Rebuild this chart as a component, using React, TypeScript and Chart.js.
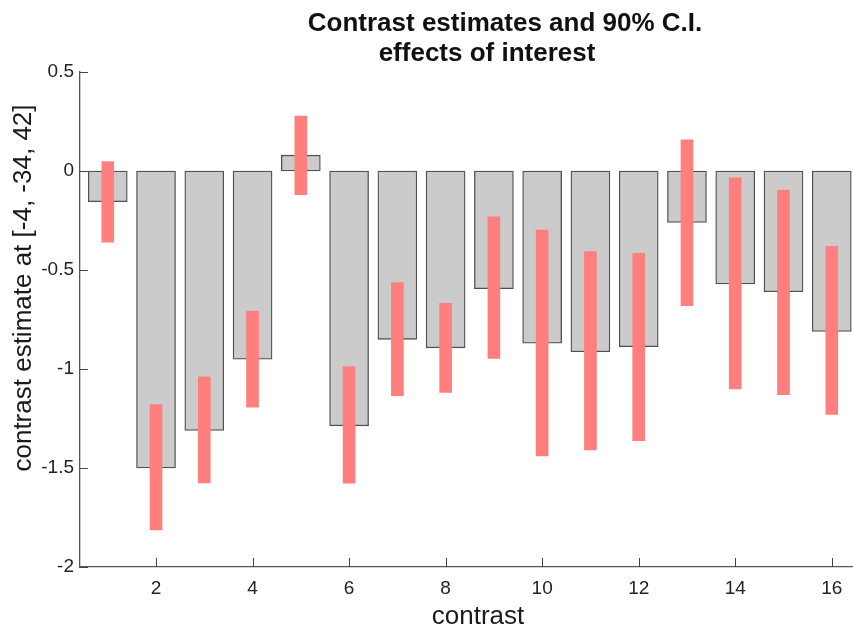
import React, { useEffect, useRef } from "react";
import { Chart, registerables } from "chart.js";

Chart.register(...registerables);

const categories = [1, 2, 3, 4, 5, 6, 7, 8, 9, 10, 11, 12, 13, 14, 15, 16];
const estimates = [-0.155, -1.5, -1.31, -0.95, 0.08, -1.287, -0.85, -0.893, -0.594, -0.87, -0.913, -0.887, -0.26, -0.57, -0.61, -0.81];
const ciLow = [-0.36, -1.813, -1.575, -1.193, -0.12, -1.577, -1.135, -1.118, -0.946, -1.439, -1.409, -1.362, -0.68, -1.1, -1.13, -1.23];
const ciHigh = [0.047, -1.18, -1.04, -0.707, 0.278, -0.988, -0.564, -0.668, -0.231, -0.298, -0.407, -0.416, 0.157, -0.035, -0.096, -0.38];
const xTickValues = [2, 4, 6, 8, 10, 12, 14, 16];
const yTickValues = [0.5, 0, -0.5, -1, -1.5, -2];
const yTickLabels = ["0.5", "0", "-0.5", "-1", "-1.5", "-2"];
const titleLines = ["Contrast estimates and 90% C.I.", "effects of interest"];
const xLabel = "contrast";
const yLabel = "contrast estimate at [-4, -34, 42]";

const FONT = "'Liberation Sans', Arial, sans-serif";

const decorPlugin = {
  id: "decor",
  afterDraw(chart: any) {
    const ctx = chart.ctx as CanvasRenderingContext2D;
    const xs = chart.scales.x;
    const ys = chart.scales.y;
    const area = chart.chartArea;
    ctx.save();
    ctx.strokeStyle = "#444";
    ctx.lineWidth = 1;
    ctx.beginPath();
    for (const v of xTickValues) {
      const px = Math.round(xs.getPixelForValue(v)) + 0.5;
      ctx.moveTo(px, area.bottom);
      ctx.lineTo(px, area.bottom - 9);
    }
    for (const v of yTickValues) {
      const py = Math.round(ys.getPixelForValue(v)) + 0.5;
      ctx.moveTo(area.left, py);
      ctx.lineTo(area.left + 8, py);
    }
    ctx.stroke();
    ctx.fillStyle = "#111";
    ctx.textAlign = "center";
    ctx.textBaseline = "alphabetic";
    ctx.font = `bold 26px ${FONT}`;
    ctx.fillText(titleLines[0], 505, 31);
    ctx.fillText(titleLines[1], 487, 61);
    ctx.fillStyle = "#1a1a1a";
    ctx.font = `26px ${FONT}`;
    ctx.fillText(xLabel, 478, 624);
    ctx.translate(31, 288);
    ctx.rotate(-Math.PI / 2);
    ctx.fillText(yLabel, 0, 0);
    ctx.restore();
  },
};

export default function App() {
  const ref = useRef<HTMLCanvasElement | null>(null);
  useEffect(() => {
    if (!ref.current) return;
    const chart = new Chart(ref.current, {
      type: "bar",
      data: {
        datasets: [
          {
            label: "90% C.I.",
            data: categories.map((c, i) => ({ x: c, y: [ciLow[i], ciHigh[i]] })) as any,
            backgroundColor: "#ff7f7f",
            borderWidth: 0,
            barThickness: 12,
            grouped: false,
            order: 0,
          },
          {
            label: "contrast estimate",
            data: categories.map((c, i) => ({ x: c, y: estimates[i] })) as any,
            backgroundColor: "#cbcbcb",
            borderColor: "#505050",
            borderWidth: 1.3,
            borderSkipped: false,
            barThickness: 39,
            grouped: false,
            order: 1,
          },
        ],
      },
      options: {
        animation: false,
        responsive: false,
        layout: { padding: { left: 0, top: 72, right: 0, bottom: 0 } },
        plugins: { legend: { display: false }, tooltip: { enabled: false }, title: { display: false } },
        scales: {
          x: {
            type: "linear",
            min: 0.425,
            max: 16.44,
            offset: false,
            grid: { display: false, drawTicks: false, offset: false },
            border: { display: true, color: "#555", width: 1.3 },
            afterBuildTicks: (s: any) => {
              s.ticks = xTickValues.map((v) => ({ value: v }));
            },
            afterFit: (s: any) => {
              s.height = 60;
            },
            ticks: {
              autoSkip: false,
              maxRotation: 0,
              padding: 10,
              color: "#222",
              font: { family: FONT, size: 19 },
              callback: (v: any) => String(v),
            },
          },
          y: {
            type: "linear",
            min: -2,
            max: 0.5,
            grid: { display: false, drawTicks: false },
            border: { display: true, color: "#555", width: 1.3 },
            afterBuildTicks: (s: any) => {
              s.ticks = yTickValues.map((v) => ({ value: v }));
            },
            afterFit: (s: any) => {
              s.width = 80;
            },
            ticks: {
              padding: 6,
              color: "#222",
              font: { family: FONT, size: 19 },
              callback: (v: any) => {
                const i = yTickValues.indexOf(Number(v));
                return i >= 0 ? yTickLabels[i] : "";
              },
            },
          },
        },
      },
      plugins: [decorPlugin],
    });
    return () => chart.destroy();
  }, []);
  return (
    <div style={{ position: "fixed", left: 0, top: 0, width: 853, height: 627, background: "#fff" }}>
      <canvas ref={ref} width={853} height={627} style={{ display: "block" }} />
    </div>
  );
}
